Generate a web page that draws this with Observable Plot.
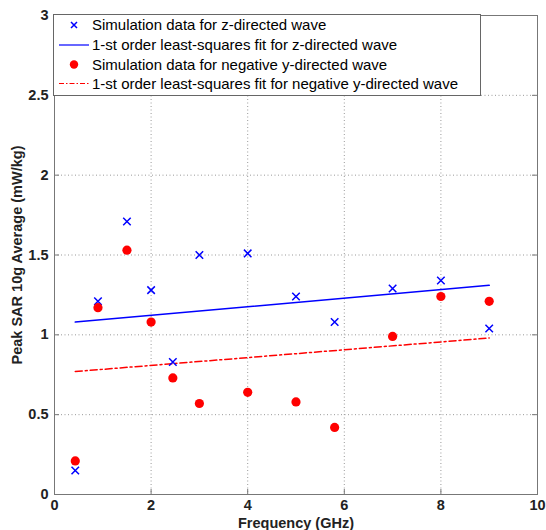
<!DOCTYPE html>
<html><head><meta charset="utf-8">
<script src="https://cdn.jsdelivr.net/npm/d3@7"></script>
<script src="https://cdn.jsdelivr.net/npm/@observablehq/plot@0.6"></script>
<style>
body{margin:0;background:#fff;font-family:"Liberation Sans",Arial,sans-serif}
#wrap{position:relative;width:546px;height:530px}
#legend{position:absolute;left:0;top:0}
</style></head><body><div id="wrap"></div>
<script>
const freq = [0.43, 0.9, 1.5, 2, 2.45, 3, 4, 5, 5.8, 7, 8, 9];
const sarZ = [0.15, 1.21, 1.71, 1.28, 0.83, 1.50, 1.51, 1.24, 1.08, 1.29, 1.34, 1.04];
const sarNegY = [0.21, 1.17, 1.53, 1.08, 0.73, 0.57, 0.64, 0.58, 0.42, 0.99, 1.24, 1.21];
const fitFreq = [0.43, 9];
const fitZ = [1.08, 1.31];
const fitNegY = [0.77, 0.98];
const xTicks = [0, 2, 4, 6, 8, 10];
const yTicks = [0, 0.5, 1, 1.5, 2, 2.5, 3];
const legendLabels = [
  "Simulation data for z-directed wave",
  "1-st order least-squares fit for z-directed wave",
  "Simulation data for negative y-directed wave",
  "1-st order least-squares fit for negative y-directed wave"
];

const W = 546, H = 530, mL = 54, mR = 9, mT = 15, mB = 36;
const fH = H - mT - mB, fW = W - mL - mR;
const ptsZ = freq.map((f, i) => ({f, v: sarZ[i]}));
const ptsY = freq.map((f, i) => ({f, v: sarNegY[i]}));
const fZ = fitFreq.map((f, i) => ({f, v: fitZ[i]}));
const fY = fitFreq.map((f, i) => ({f, v: fitNegY[i]}));
const grid = {stroke: "#999", strokeDasharray: "1,2.5", strokeWidth: 1};
const tk = {stroke: "#777", strokeWidth: 1};
const font = "'Liberation Sans', Arial, sans-serif";

const chart = Plot.plot({
  width: W, height: H,
  marginLeft: mL, marginRight: mR, marginTop: mT, marginBottom: mB,
  style: {fontFamily: font, fontSize: "14.5px", fontWeight: "bold", color: "#000", background: "#fff", overflow: "visible"},
  x: {domain: [0, 10]},
  y: {domain: [0, 3]},
  marks: [
    Plot.ruleX(xTicks.slice(1, -1), {x: d => d, ...grid}),
    Plot.ruleY(yTicks.slice(1, -1), {y: d => d, ...grid}),
    Plot.tickX(xTicks, {x: d => d, insetTop: fH - 5, ...tk}),
    Plot.tickX(xTicks, {x: d => d, insetBottom: fH - 5, ...tk}),
    Plot.tickY(yTicks, {y: d => d, insetRight: fW - 5, ...tk}),
    Plot.tickY(yTicks, {y: d => d, insetLeft: fW - 5, ...tk}),
    Plot.frame({stroke: "#777"}),
    Plot.line(fZ, {x: "f", y: "v", stroke: "#0000ff", strokeWidth: 1.5}),
    Plot.line(fY, {x: "f", y: "v", stroke: "#ff0000", strokeWidth: 1.5, strokeDasharray: "7,3,2,3"}),
    Plot.dot(ptsZ, {x: "f", y: "v", symbol: "times", r: 3.5, stroke: "#0000ff", strokeWidth: 1.5}),
    Plot.dot(ptsY, {x: "f", y: "v", r: 4.6, fill: "#ff0000", stroke: "none"}),
    Plot.axisX(xTicks, {anchor: "bottom", tickSize: 0, tickPadding: 5, fill: "#222", label: null}),
    Plot.axisX({anchor: "bottom", ticks: [], label: "Frequency (GHz)", labelArrow: "none", labelAnchor: "center", labelOffset: 33, fill: "#222"}),
    Plot.axisY(yTicks, {anchor: "left", tickSize: 0, tickPadding: 6, tickFormat: d => String(d), fill: "#222", label: null}),
    Plot.axisY({anchor: "left", ticks: [], label: "Peak SAR 10g Average (mW/kg)", labelArrow: "none", labelAnchor: "center", labelOffset: 43, fill: "#222"})
  ]
});
const wrap = document.getElementById("wrap");
wrap.appendChild(chart);

// legend overlay (upper-left, inside the axes)
const lg = d3.create("svg").attr("id", "legend").attr("width", W).attr("height", 120);
const lx = 53, ly = 14, lw = 427, lh = 81;
lg.append("rect").attr("x", lx + 0.5).attr("y", ly + 0.5).attr("width", lw).attr("height", lh)
  .attr("fill", "#fff").attr("stroke", "#666");
const rowY = [25, 45, 64.5, 83.5];
legendLabels.forEach((t, i) => {
  const y = rowY[i];
  lg.append("text").attr("x", 92).attr("y", y).attr("dy", "0.35em")
    .attr("font-family", font).attr("font-size", 15).attr("fill", "#000").text(t);
  const cx = 74;
  if (i === 0) {
    lg.append("path").attr("d", `M${cx-3},${y-3}L${cx+3},${y+3}M${cx-3},${y+3}L${cx+3},${y-3}`).attr("stroke", "#0000ff").attr("stroke-width", 1.5);
  } else if (i === 2) {
    lg.append("circle").attr("cx", cx).attr("cy", y).attr("r", 4.2).attr("fill", "#ff0000");
  } else {
    lg.append("line").attr("x1", 59).attr("x2", 89).attr("y1", y).attr("y2", y)
      .attr("stroke", i === 1 ? "#0000ff" : "#ff0000").attr("stroke-width", 1.2)
      .attr("stroke-dasharray", i === 3 ? "5,2,1.5,2" : null);
  }
});
wrap.appendChild(lg.node());
</script>
</body></html>
